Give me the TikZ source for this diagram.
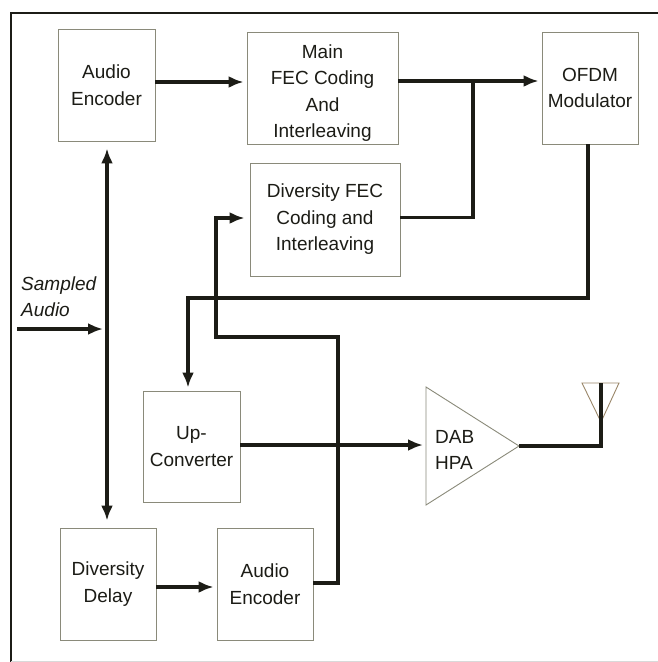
\documentclass[tikz,border=0pt]{standalone}
\usepackage{fontspec}
\setmainfont{Liberation Sans}
\usetikzlibrary{arrows.meta}
\definecolor{ink}{HTML}{1C1C16}
\definecolor{boxline}{HTML}{8A8A7A}
\tikzset{
  blk/.style={draw=boxline, line width=0.9pt, fill=white, align=center, text=ink,
    font=\fontsize{19}{26.5}\selectfont, inner sep=0pt},
  conn/.style={draw=ink, line width=3.3pt},
  arr/.style={conn, -{Latex[length=15pt,width=12pt]}, shorten >=3pt},
  frame/.style={draw=ink, line width=2.4pt},
}
\begin{document}
\begin{tikzpicture}[x=1pt,y=-1pt]
\useasboundingbox (0,0) rectangle (658,662);
\fill[white] (0,0) rectangle (658,662);
% frame
\draw[frame] (11,662) -- (11,13) -- (658,13);
\draw[gray!30, line width=0.8pt] (11,661) -- (658,661);

% blocks
\node[blk, minimum width=97pt, minimum height=112pt] (ae1) at (106.5,85) {Audio\\Encoder};
\node[blk, minimum width=151pt, minimum height=112pt] (mfec) at (322.5,88) {\raisebox{-5pt}[\height][\depth]{\parbox{140pt}{\centering Main\\FEC Coding\\And\\Interleaving}}};
\node[blk, minimum width=96pt, minimum height=112pt] (ofdm) at (590,88) {OFDM\\Modulator};
\node[blk, minimum width=150pt, minimum height=113pt] (dfec) at (325,219.5) {Diversity FEC\\Coding and\\Interleaving};
\node[blk, minimum width=97pt, minimum height=111pt] (upc) at (191.5,446.5) {Up-\\Converter};
\node[blk, minimum width=96pt, minimum height=112pt] (ddel) at (108,584) {Diversity\\Delay};
\node[blk, minimum width=96pt, minimum height=112pt] (ae2) at (265,584) {Audio\\Encoder};

% amplifier
\coordinate (hpaT) at (426,387);
\coordinate (hpaB) at (426,505);
\coordinate (hpaO) at (519,446);
\draw[boxline, line width=0.9pt, fill=white] (hpaT) -- (hpaO) -- (hpaB) -- cycle;
\node[align=left, anchor=west, text=ink, font=\fontsize{19}{26.5}\selectfont, inner sep=0pt] (hpa) at (435,450) {DAB\\HPA};
\coordinate (hpaI) at (426,445);

% antenna
\coordinate (antL) at (582,383);
\coordinate (antR) at (619,383);
\coordinate (antA) at (601,422);
\coordinate (antF) at (601,446);
\draw[boxline!70!brown, line width=0.9pt] (antL) -- (antR) -- (antA) -- cycle;

% helper levels
\coordinate (y82) at (0,82);
\coordinate (y81) at (0,81);
\coordinate (y217) at (0,217.5);
\coordinate (y587) at (0,587);
\coordinate (y583) at (0,583);
\coordinate (y445) at (0,445);
\coordinate (x107) at (107,0);
\coordinate (x588) at (588,0);
\coordinate (x188) at (188,0);
\coordinate (j1) at (473,81);
\coordinate (r1) at (588,298);
\coordinate (r2) at (188,298);
\coordinate (d1) at (338,583);
\coordinate (d2) at (338,337);
\coordinate (d3) at (216,337);
\coordinate (d4) at (216,218);
\coordinate (sa) at (17,329);
\coordinate (sb) at (107,329);

% connectors
\draw[arr] (ae1.east |- y82) -- (mfec.west |- y82);
\draw[arr] (mfec.east |- y81) -- (ofdm.west |- y81);
\draw[conn] (dfec.east |- y217) -| (j1);
\draw[arr] (ofdm.south -| x588) -- (r1) -- (r2) -- (upc.north -| x188);
\draw[arr] (ddel.east |- y587) -- (ae2.west |- y587);
\draw[arr, shorten >=5pt] (ae2.east |- y583) -- (d1) -- (d2) -- (d3) -- (d4) -- (dfec.west |- d4);
\draw[arr] (upc.east |- y445) -- (hpaI);
\draw[conn] (hpaO) -- (antF) -- (antL -| antF);
\draw[conn, {Latex[length=15pt,width=12pt]}-{Latex[length=15pt,width=12pt]}, shorten >=7pt, shorten <=7pt] (ae1.south -| x107) -- (ddel.north -| x107);
\draw[arr, shorten >=4pt] (sa) -- (sb);
\node[anchor=south west, align=left, text=ink, font=\fontsize{19}{26.5}\selectfont\itshape, inner sep=0pt] (samp) at (21,317) {Sampled\\Audio};
\end{tikzpicture}
\end{document}
